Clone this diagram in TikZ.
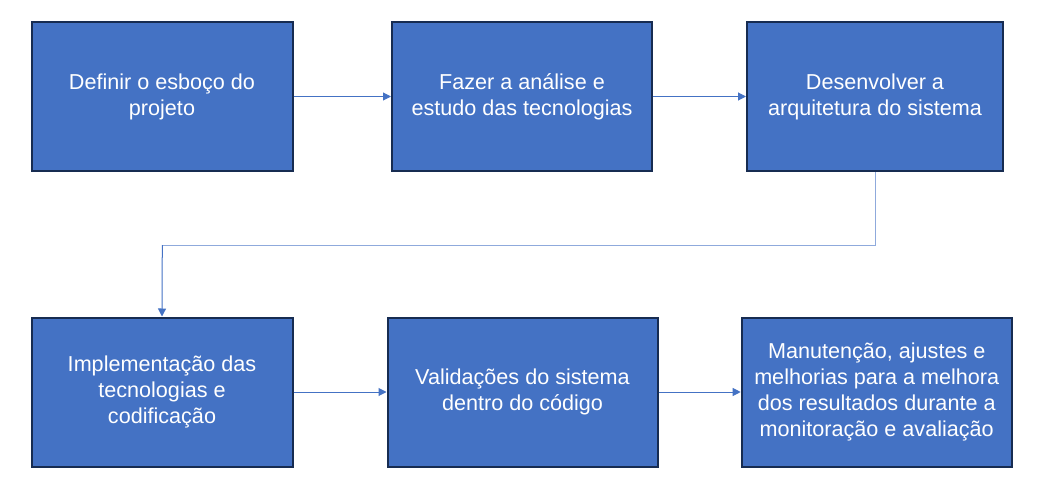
\documentclass[tikz,border=0pt]{standalone}
\usepackage{fontspec}
\setmainfont{Liberation Sans}
\usetikzlibrary{arrows.meta}
\definecolor{boxfill}{HTML}{4472C4}
\definecolor{boxline}{HTML}{172C51}
\definecolor{lightline}{HTML}{8FAADC}
\tikzset{
  stepbox/.style={draw=boxline, line width=2pt, fill=boxfill, text=white,
    minimum height=149pt, align=center, inner sep=0pt,
    font=\fontsize{21.6}{26}\selectfont},
  conn/.style={draw=boxfill, line width=1pt, -{Triangle[length=8pt,width=8pt]}},
}
\begin{document}
\begin{tikzpicture}[x=1pt,y=-1pt]
\useasboundingbox (0,0) rectangle (1062,500);
\node[stepbox, minimum width=261pt] (b1) at (162,96.5) {Definir o esboço do\\projeto};
\node[stepbox, minimum width=260pt] (b2) at (522,96.5) {Fazer a análise e\\estudo das tecnologias};
\node[stepbox, minimum width=256pt] (b3) at (875,96.5) {Desenvolver a\\arquitetura do sistema};
\node[stepbox, minimum width=261pt] (b4) at (162,392) {Implementação das\\tecnologias e\\codificação};
\node[stepbox, minimum width=270pt] (b5) at (522.5,392) {Validações do sistema\\dentro do código};
\node[stepbox, minimum width=270pt] (b6) at (876.7,392) {Manutenção, ajustes e\\melhorias para a melhora\\dos resultados durante a\\monitoração e avaliação};
\coordinate (c1) at (162.3,245);
\draw[conn] (b1) -- (b2);
\draw[conn] (b2) -- (b3);
\draw[draw=lightline, line width=1pt] (b3.south) |- (c1);
\draw[conn] (c1) -- (b4.north);
\draw[conn] (b4) -- (b5);
\draw[conn] (b5) -- (b6);
\end{tikzpicture}
\end{document}
